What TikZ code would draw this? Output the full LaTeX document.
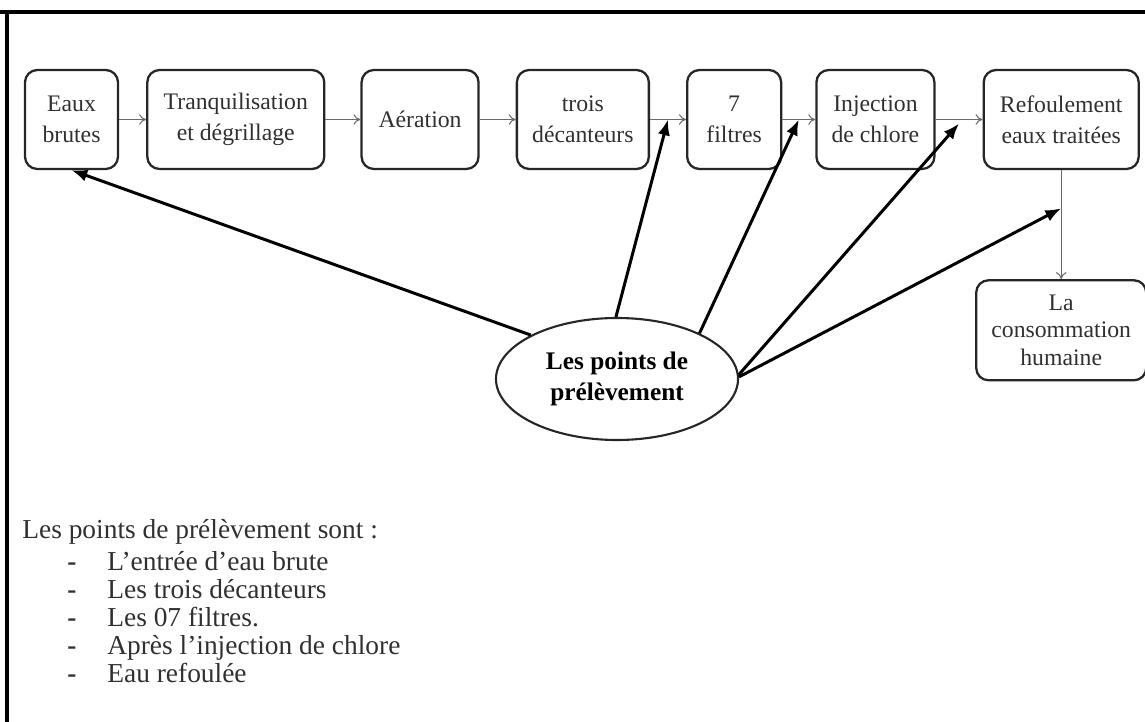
\documentclass[tikz,border=0pt]{standalone}
\usepackage{fontspec}
\setmainfont{Liberation Serif}
\usetikzlibrary{arrows.meta,calc,positioning,shapes.geometric}
\definecolor{textgray}{HTML}{303030}
\definecolor{flowgray}{HTML}{6A6A6A}
\tikzset{
  frameline/.style={black, line width=2.2pt},
  stepbox/.style={draw=black!85, line width=1.3pt, rounded corners=7pt, align=center, inner sep=2pt, minimum height=1.98cm, text=textgray, font=\fontsize{13.5}{17.5}\selectfont},
  flow/.style={flowgray, -{To[length=4pt,width=6pt]}, line width=0.6pt},
  pick/.style={black, -{Latex[length=9pt,width=7pt]}, line width=1.7pt},
  pointsnode/.style={draw=black!85, ellipse, line width=1.2pt, inner sep=0pt, minimum width=4.84cm, minimum height=2.44cm, align=center, font=\bfseries\fontsize{14.4}{18}\selectfont},
  listtext/.style={anchor=base west, inner sep=0pt, text=textgray, font=\fontsize{15.6}{18}\selectfont}
}
\begin{document}
\begin{tikzpicture}[node distance=0.7cm]
  \useasboundingbox (0,0) rectangle (22.9,-14.44);
  % frame
  \draw[frameline] (0,-0.24) -- (22.9,-0.24);
  \draw[frameline] (0.14,-0.24) -- (0.14,-14.44);

  % treatment chain
  \node[stepbox, minimum width=1.86cm] (eaux) at (1.43,-2.39) {Eaux\\brutes};
  \node[stepbox, minimum width=3.54cm, right=0.54cm of eaux] (tranq) {Tranquilisation\\et dégrillage};
  \node[stepbox, minimum width=2.34cm, right=of tranq] (aer) {Aération};
  \node[stepbox, minimum width=2.64cm, right=0.72cm of aer] (deca) {trois\\décanteurs};
  \node[stepbox, minimum width=1.88cm, right=0.72cm of deca] (filt) {7\\filtres};
  \node[stepbox, minimum width=2.36cm, right=0.66cm of filt] (inj) {Injection\\de chlore};
  \node[stepbox, minimum width=3.1cm, right=0.94cm of inj] (refoul) {Refoulement\\eaux traitées};
  \node[stepbox, minimum width=3.4cm, minimum height=2cm, below=2.18cm of refoul, font=\fontsize{13.5}{15.5}\selectfont] (conso) {La\\consommation\\humaine};

  \draw[flow] (eaux) -- (tranq);
  \draw[flow] (tranq) -- (aer);
  \draw[flow] (aer) -- (deca);
  \draw[flow] (deca) -- (filt);
  \draw[flow] (filt) -- (inj);
  \draw[flow] (inj) -- (refoul);
  \draw[flow] (refoul) -- (conso);

  % sampling points
  \node[pointsnode] (pts) at (12.34,-7.58) {Les points de\\prélèvement};
  \coordinate (tapdeca) at ($(deca.east)!0.5!(filt.west)$);
  \coordinate (tapfilt) at ($(filt.east)!0.5!(inj.west)$);
  \coordinate (tapinj) at ($(inj.east)!0.5!(refoul.west)+(0,-0.08)$);
  \coordinate (tapref) at ($(refoul.south)!0.35!(conso.north)$);
  \draw[pick] (pts.153) -- (eaux.south);
  \draw[pick] (pts.91) -- (tapdeca);
  \draw[pick] (pts.29) -- (tapfilt);
  \draw[pick] (pts.2) -- (tapinj);
  \draw[pick] (pts.1) -- (tapref);

  % list
  \node[listtext] (head) at (0.44,-10.76) {Les points de prélèvement sont :};
  \foreach \txt [count=\i] in {L’entrée d’eau brute, Les trois décanteurs, Les 07 filtres., Après l’injection de chlore, Eau refoulée} {
    \node[listtext] (dash\i) at (1.34,{-11.40-0.56*(\i-1)}) {\textbf{-}};
    \node[listtext] (item\i) at (2.14,{-11.40-0.56*(\i-1)}) {\txt};
  }
\end{tikzpicture}
\end{document}
